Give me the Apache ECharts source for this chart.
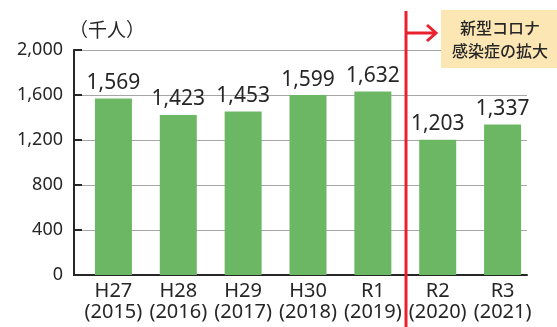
<!DOCTYPE html>
<html>
<head>
<meta charset="utf-8">
<script src="https://cdn.jsdelivr.net/npm/echarts@6/dist/echarts.min.js"></script>
<style>
  html, body { margin: 0; padding: 0; background: #fff; }
  #chart { width: 557px; height: 327px; }
</style>
</head>
<body>
<div id="chart"></div>
<script>
// Visitors per year (thousand people)
const eras = ['H27', 'H28', 'H29', 'H30', 'R1', 'R2', 'R3'];
const years = ['2015', '2016', '2017', '2018', '2019', '2020', '2021'];
const visitors = [1569, 1423, 1453, 1599, 1632, 1203, 1337];
const yTicks = [0, 400, 800, 1200, 1600, 2000];
const unitLabel = '（千人）';
const noteLines = ['新型コロナ', '感染症の拡大'];

const categories = eras.map((e, i) => e + '\n(' + years[i] + ')');
const latin = "'Noto Sans', 'Noto Sans CJK JP', sans-serif";
const cjk = "'Noto Sans CJK JP', sans-serif";
const ink = '#262626';
const yMin = yTicks[0], yMax = yTicks[yTicks.length - 1];
const yStep = yTicks[1] - yTicks[0];

const chart = echarts.init(document.getElementById('chart'), null, { renderer: 'canvas' });

chart.setOption({
  animation: false,
  backgroundColor: '#ffffff',
  grid: [
    // frame: axis lines, ticks, grid lines
    { left: 74, right: 30, top: 50, bottom: 52 },
    // bars and category labels
    { left: 81, right: 22, top: 50, bottom: 52 }
  ],
  xAxis: [
    {
      gridIndex: 0, type: 'category', data: categories,
      axisLine: { lineStyle: { color: ink, width: 2 } },
      axisTick: { show: false }, axisLabel: { show: false }
    },
    {
      gridIndex: 1, type: 'category', data: categories,
      axisLine: { show: false }, axisTick: { show: false },
      axisLabel: {
        color: ink, fontFamily: latin, fontSize: 20, lineHeight: 21,
        margin: 6, interval: 0
      }
    }
  ],
  yAxis: [
    {
      gridIndex: 0, type: 'value', min: yMin, max: yMax, interval: yStep,
      axisLine: { show: true, lineStyle: { color: ink, width: 2 } },
      axisTick: { show: true, inside: true, length: 8, lineStyle: { color: ink, width: 2 } },
      axisLabel: {
        color: ink, fontFamily: latin, fontSize: 18, margin: 11,
        formatter: v => v.toLocaleString('en-US')
      },
      splitLine: { show: true, lineStyle: { color: '#a6a6a6', width: 1 } }
    },
    {
      gridIndex: 1, type: 'value', min: yMin, max: yMax, interval: yStep,
      show: false, splitLine: { show: false }
    }
  ],
  series: [{
    type: 'bar',
    xAxisIndex: 1, yAxisIndex: 1,
    data: visitors,
    barWidth: 37,
    itemStyle: { color: '#6cb764' },
    label: {
      show: true, position: 'top', distance: 5,
      color: ink, fontFamily: latin, fontSize: 21,
      formatter: p => p.value.toLocaleString('en-US')
    },
    z: 3
  }],
  graphic: [
    {
      type: 'text', left: 69, top: 20, z: 10,
      style: { text: unitLabel, fill: ink, font: "19px " + cjk }
    },
    // divider marking the start of the pandemic period
    {
      type: 'line', z: 20,
      shape: { x1: 406, y1: 11, x2: 406, y2: 327 },
      style: { stroke: '#e8212d', lineWidth: 3 }
    },
    {
      type: 'line', z: 20,
      shape: { x1: 406, y1: 33, x2: 436, y2: 33 },
      style: { stroke: '#e8212d', lineWidth: 3 }
    },
    {
      type: 'polyline', z: 20,
      shape: { points: [[427, 25], [436, 33], [427, 41]] },
      style: { stroke: '#e8212d', lineWidth: 3, fill: null }
    },
    {
      type: 'rect', z: 20,
      shape: { x: 441, y: 10, width: 116, height: 58 },
      style: { fill: '#fbe6b4' }
    },
    {
      type: 'text', z: 21, x: 500, y: 39,
      style: {
        text: noteLines.join('\n'), fill: ink, font: "500 16px " + cjk,
        lineHeight: 23, align: 'center', verticalAlign: 'middle'
      }
    }
  ]
});
</script>
</body>
</html>
